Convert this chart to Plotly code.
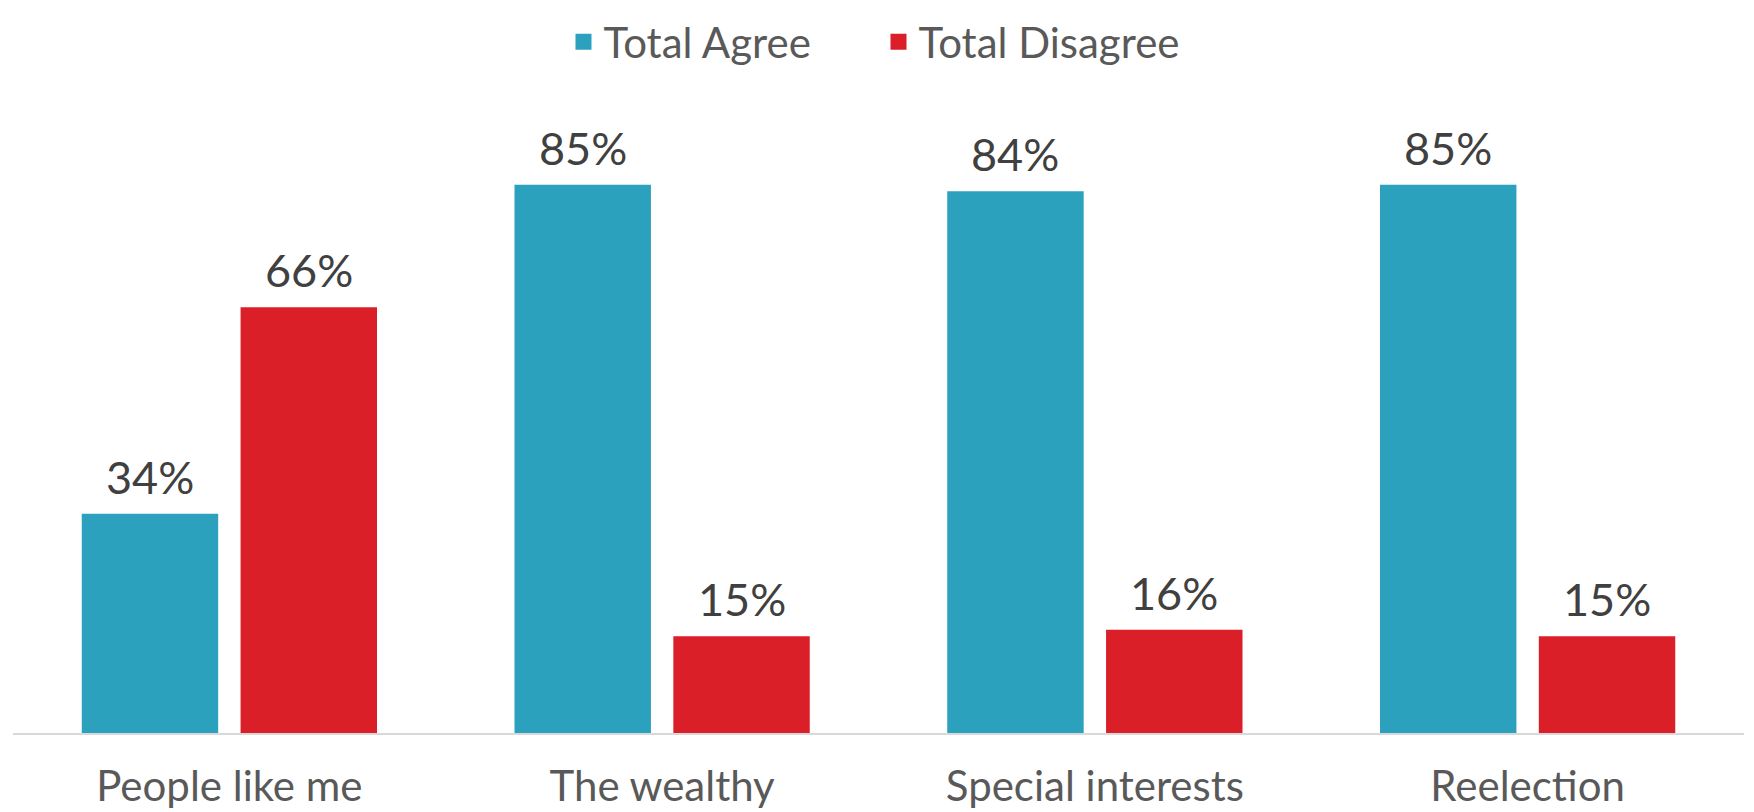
import plotly.graph_objects as go

categories = ["People like me", "The wealthy", "Special interests", "Reelection"]
agree = [34, 85, 84, 85]
disagree = [66, 15, 16, 15]
series_names = ["Total Agree", "Total Disagree"]
colors = ["#2CA1BE", "#DA1F28"]

BARGAP = 0.266
slot = (1 - BARGAP) / 2  # width of each bar slot in category units

fig = go.Figure()
for i, (name, vals) in enumerate(zip(series_names, [agree, disagree])):
    fig.add_trace(go.Bar(
        x=categories, y=vals, name=name, marker_color=colors[i],
        marker_line_width=0, showlegend=False, hoverinfo="skip",
    ))
    # legend entries
    fig.add_trace(go.Scatter(
        x=[None], y=[None], mode="markers", name=name,
        marker=dict(symbol="square", size=16, color=colors[i]),
        showlegend=True,
    ))

annotations = []
for i, vals in enumerate([agree, disagree]):
    off = (i - 0.5) * slot
    for j, v in enumerate(vals):
        annotations.append(dict(
            x=j + off, y=v, xref="x", yref="y", text=f"{v}%",
            showarrow=False, yanchor="middle", yshift=37,
            font=dict(family="Lato", size=45, color="#404040"),
        ))

fig.update_layout(
    width=1746, height=804,
    margin=dict(l=5, r=10, t=80, b=79, autoexpand=False),
    paper_bgcolor="white", plot_bgcolor="white",
    barmode="group", bargap=BARGAP, bargroupgap=0.141,
    font=dict(family="Lato", color="#595959"),
    legend=dict(orientation="h", x=0.5, xanchor="center", y=1.0, yanchor="top",
                yref="container", font=dict(size=42, color="#595959"),
                itemwidth=30, entrywidth=270),
    annotations=annotations,
    xaxis=dict(showline=True, linecolor="#D9D9D9", linewidth=2, showgrid=False,
               ticks="", tickfont=dict(family="Lato", size=42, color="#595959"),
               ticklabelstandoff=16, zeroline=False),
    yaxis=dict(range=[0, 100], visible=False, showgrid=False, zeroline=False),
)

fig.write_html("out.html")
